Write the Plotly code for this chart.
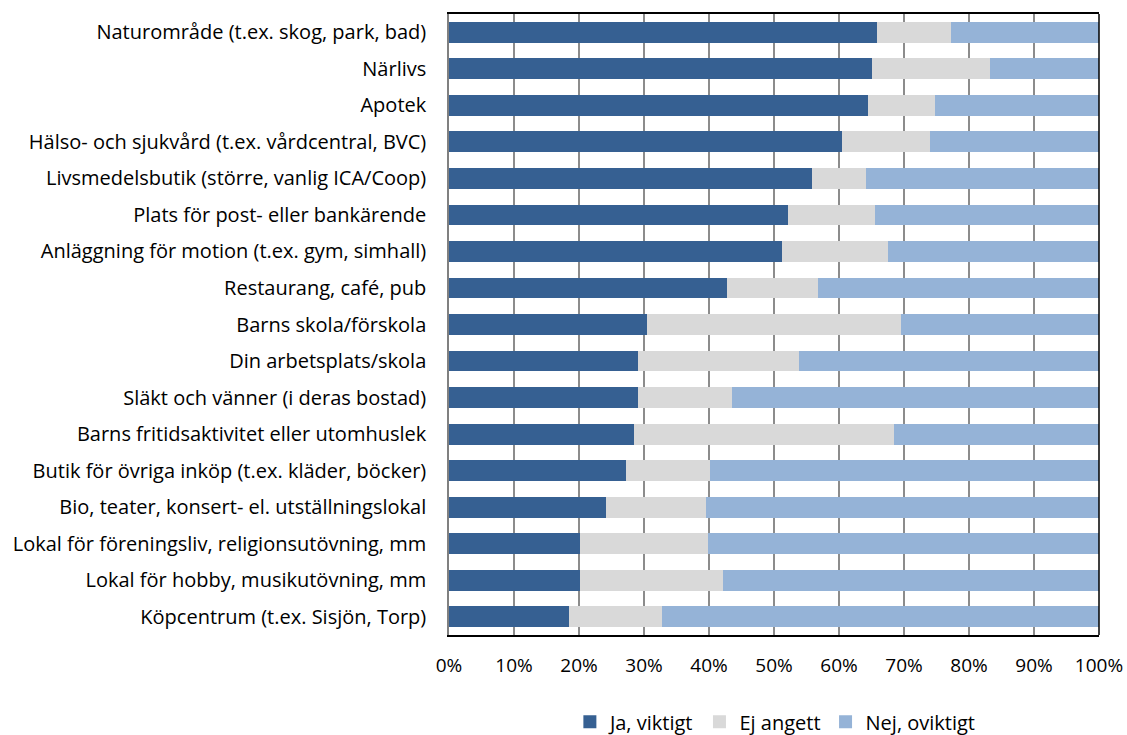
import plotly.graph_objects as go

categories = [
    "Naturområde (t.ex. skog, park, bad)",
    "Närlivs",
    "Apotek",
    "Hälso- och sjukvård (t.ex. vårdcentral, BVC)",
    "Livsmedelsbutik (större, vanlig ICA/Coop)",
    "Plats för post- eller bankärende",
    "Anläggning för motion (t.ex. gym, simhall)",
    "Restaurang, café, pub",
    "Barns skola/förskola",
    "Din arbetsplats/skola",
    "Släkt och vänner (i deras bostad)",
    "Barns fritidsaktivitet eller utomhuslek",
    "Butik för övriga inköp (t.ex. kläder, böcker)",
    "Bio, teater, konsert- el. utställningslokal",
    "Lokal för föreningsliv, religionsutövning, mm",
    "Lokal för hobby, musikutövning, mm",
    "Köpcentrum (t.ex. Sisjön, Torp)",
]
ja_viktigt = [65.8, 65.0, 64.4, 60.4, 55.8, 52.1, 51.2, 42.8, 30.5, 29.0, 29.0, 28.5, 27.3, 24.2, 20.2, 20.2, 18.5]
ej_angett = [11.4, 18.2, 10.3, 13.6, 8.3, 13.5, 16.4, 13.9, 39.0, 24.9, 14.5, 39.9, 12.8, 15.4, 19.6, 21.9, 14.3]
nej_oviktigt = [22.8, 16.8, 25.3, 26.0, 35.9, 34.4, 32.4, 43.3, 30.5, 46.1, 56.5, 31.6, 59.9, 60.4, 60.2, 57.9, 67.2]
series_names = ["Ja, viktigt", "Ej angett", "Nej, oviktigt"]
x_ticks = [0, 10, 20, 30, 40, 50, 60, 70, 80, 90, 100]

colors = ["#366092", "#D9D9D9", "#95B3D7"]
font = "Open Sans"

fig = go.Figure()
for name, vals, col in zip(series_names, [ja_viktigt, ej_angett, nej_oviktigt], colors):
    fig.add_trace(go.Bar(
        y=categories, x=vals, name=name, orientation="h",
        marker=dict(color=col, line=dict(width=0)), showlegend=False,
    ))
# legend entries as small squares
for name, col in zip(series_names, colors):
    fig.add_trace(go.Scatter(
        x=[None], y=[None], mode="markers", name=name,
        marker=dict(symbol="square", size=13, color=col),
    ))

fig.update_layout(
    barmode="stack",
    bargap=0.43,
    width=1127, height=735,
    margin=dict(l=449, r=28, t=14, b=100, autoexpand=False),
    plot_bgcolor="white", paper_bgcolor="white",
    font=dict(family=font, size=20, color="#000000"),
    legend=dict(orientation="h", x=0.688, xref="container", xanchor="center",
                y=0.018, yref="container", yanchor="middle",
                font=dict(size=20), itemwidth=30, traceorder="normal",
                tracegroupgap=0),
    xaxis=dict(
        range=[0, 100], tickvals=x_ticks, ticktext=[f"{t}%" for t in x_ticks],
        showgrid=True, gridcolor="#8C8C8C", gridwidth=1.5,
        showline=True, linecolor="#000000", linewidth=1.5, mirror=True,
        zeroline=False, ticks="", ticklen=0, tickfont=dict(size=19),
        automargin=False, ticklabelstandoff=12,
    ),
    yaxis=dict(
        autorange="reversed", showline=True, linecolor="#808080", linewidth=1.5,
        ticks="", tickfont=dict(size=20), automargin=False,
        ticklabelstandoff=17,
    ),
)
fig.add_shape(type="line", xref="paper", yref="paper", x0=1, x1=1, y0=0, y1=1,
              line=dict(color="#000000", width=1.5))

fig.write_html("out.html")
